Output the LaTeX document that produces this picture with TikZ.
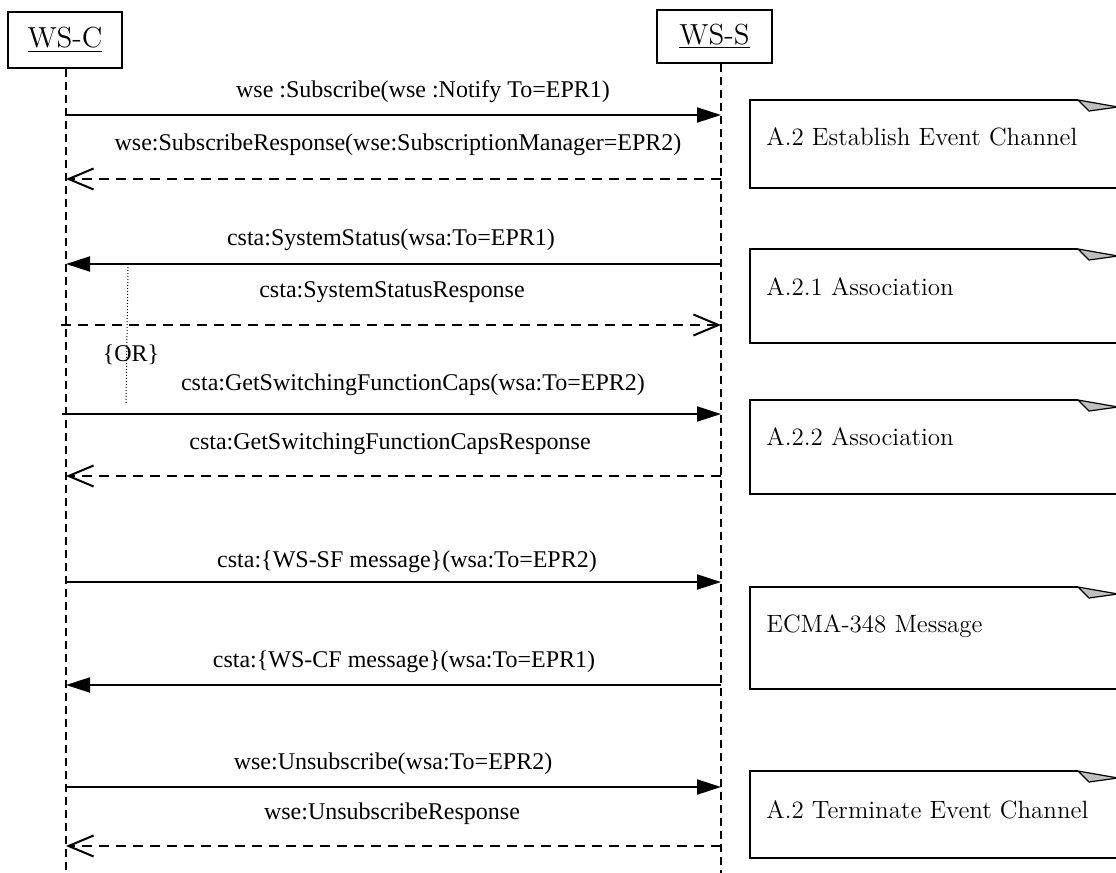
\documentclass[tikz,border=0pt]{standalone}
\usepackage{fontspec}
\newfontfamily\timesfont{Liberation Serif}
\usetikzlibrary{arrows.meta}

\tikzset{
  objbox/.style={draw, line width=0.8pt, inner sep=0pt, font=\fontsize{14.5}{17}\selectfont},
  lifeline/.style={line width=0.7pt, dash pattern=on 4pt off 2.5pt},
  call/.style={line width=1pt, -{Triangle[length=12pt,width=7.5pt]}},
  reply/.style={line width=0.8pt, dash pattern=on 5pt off 3.5pt, -{Straight Barb[length=12.5pt,width=10.5pt,line width=1pt]}},
  msg/.style={font=\timesfont\fontsize{12}{14}\selectfont, inner sep=0pt},
  notetext/.style={anchor=west, inner sep=0pt, font=\fontsize{12.5}{15}\selectfont},
  noteline/.style={line width=0.8pt},
  notefold/.style={line width=0.6pt, fill=black!25},
  orline/.style={line width=0.5pt, densely dotted},
}

\begin{document}
\begin{tikzpicture}[x=0.5pt,y=-0.5pt]
  \clip (0,0) rectangle (1116,873);

  % objects and lifelines
  \node[objbox, minimum width=57pt, minimum height=28pt] (wsc) at (65,40) {\underline{WS-C}};
  \node[objbox, minimum width=57.5pt, minimum height=26.5pt] (wss) at (714.5,36.5) {\underline{WS-S}};
  \coordinate (cend) at (66,873);
  \coordinate (send) at (721,873);
  \draw[lifeline] (cend |- wsc.south) -- (cend);
  \draw[lifeline] (send |- wss.south) -- (send);

  % establish event channel
  \coordinate (m1) at (0,115);
  \coordinate (m2) at (0,179);
  \draw[call] (cend |- m1) -- (send |- m1);
  \node[msg] (l1) at (423,92) {wse :Subscribe(wse :Notify To=EPR1)};
  \draw[reply] (send |- m2) -- (cend |- m2);
  \node[msg] (l2) at (398,145) {wse:SubscribeResponse(wse:SubscriptionManager=EPR2)};

  % association
  \coordinate (m3) at (0,264);
  \coordinate (m4) at (0,325);
  \draw[call] (send |- m3) -- (cend |- m3);
  \node[msg] (l3) at (391,240) {csta:SystemStatus(wsa:To=EPR1)};
  \draw[reply] ([xshift=-2.5pt]cend |- m4) -- (send |- m4);
  \node[msg] (l4) at (392,292) {csta:SystemStatusResponse};

  \coordinate (m5) at (0,414);
  \coordinate (m6) at (0,476);
  \draw[call] ([xshift=-2pt]cend |- m5) -- (send |- m5);
  \node[msg] (l5) at (413,385) {csta:GetSwitchingFunctionCaps(wsa:To=EPR2)};
  \draw[reply] (send |- m6) -- (cend |- m6);
  \node[msg] (l6) at (390,444) {csta:GetSwitchingFunctionCapsResponse};

  % or constraint
  \node[msg] (or) at (131,355) {\{OR\}};
  \draw[orline] (128,267) -- (126,403);

  % ecma-348 messages
  \coordinate (m7) at (0,582);
  \coordinate (m8) at (0,685);
  \draw[call] (cend |- m7) -- (send |- m7);
  \node[msg] (l7) at (407,562) {csta:\{WS-SF message\}(wsa:To=EPR2)};
  \draw[call] (send |- m8) -- (cend |- m8);
  \node[msg] (l8) at (404,662) {csta:\{WS-CF message\}(wsa:To=EPR1)};

  % terminate event channel
  \coordinate (m9) at (0,787);
  \coordinate (m10) at (0,846);
  \draw[call] (cend |- m9) -- (send |- m9);
  \node[msg] (l9) at (393,764) {wse:Unsubscribe(wsa:To=EPR2)};
  \draw[reply] (send |- m10) -- (cend |- m10);
  \node[msg] (l10) at (392,814) {wse:UnsubscribeResponse};

  % notes
  \node[notetext] (n1) at (766,137) {A.2 Establish Event Channel};
  \draw[noteline] (1120,188) -- (750,188) -- (750,100) -- (1078,100);
  \draw[notefold] (1078,100) -- (1118,107) -- (1089,111) -- cycle;

  \node[notetext] (n2) at (766,287) {A.2.1 Association};
  \draw[noteline] (1120,343) -- (750,343) -- (750,249) -- (1078,249);
  \draw[notefold] (1078,249) -- (1118,256) -- (1089,260) -- cycle;

  \node[notetext] (n3) at (766,437) {A.2.2 Association};
  \draw[noteline] (1120,494) -- (750,494) -- (750,400) -- (1078,400);
  \draw[notefold] (1078,400) -- (1118,407) -- (1089,411) -- cycle;

  \node[notetext] (n4) at (766,626) {ECMA-348 Message};
  \draw[noteline] (1120,689) -- (750,689) -- (750,587) -- (1078,587);
  \draw[notefold] (1078,587) -- (1118,594) -- (1089,598) -- cycle;

  \node[notetext] (n5) at (766,810) {A.2 Terminate Event Channel};
  \draw[noteline] (1120,858) -- (750,858) -- (750,771) -- (1078,771);
  \draw[notefold] (1078,771) -- (1118,778) -- (1089,782) -- cycle;
\end{tikzpicture}
\end{document}
